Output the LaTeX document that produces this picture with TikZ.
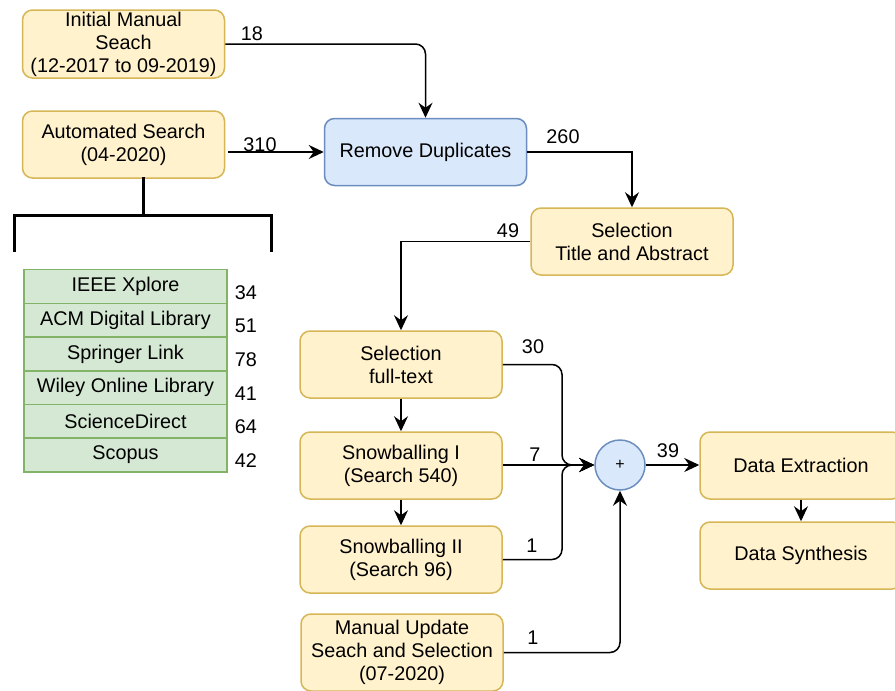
\documentclass[tikz,border=0pt]{standalone}
\usepackage{fontspec}
\setmainfont{Liberation Sans}
\usetikzlibrary{arrows.meta}
\definecolor{yfill}{HTML}{FFF2CC}
\definecolor{yline}{HTML}{D6B656}
\definecolor{bfill}{HTML}{DAE8FC}
\definecolor{bline}{HTML}{6C8EBF}
\definecolor{gfill}{HTML}{D5E8D4}
\definecolor{gline}{HTML}{82B366}
\newcommand\diagfont{\fontsize{9.9}{11.5}\selectfont}
\tikzset{
    box/.style={draw=yline, fill=yfill, line width=0.75pt, rounded corners=5pt,
        minimum width=101pt, minimum height=33.5pt, inner sep=0pt, align=center, font=\diagfont},
    dupbox/.style={box, draw=bline, fill=bfill},
    dbbox/.style={draw=gline, fill=gfill, line width=0.75pt, minimum width=101.5pt,
        minimum height=16.83pt, inner sep=0pt, font=\diagfont},
    plus/.style={circle, draw=bline, fill=bfill, line width=0.75pt, minimum size=25pt,
        inner sep=0pt, font=\fontsize{8}{10}\selectfont},
    num/.style={inner sep=0pt, font=\diagfont},
    link/.style={line width=0.75pt, -{Stealth[length=7.5pt, width=7pt, inset=2.5pt]}},
    bracket/.style={line width=1.5pt}
}
\begin{document}
\begin{tikzpicture}[x=0.5pt, y=-0.5pt]
    \useasboundingbox (0,0) rectangle (895,691);
    % Boxes
    \node[box, minimum height=34pt] (init) at (123.5,44) {Initial Manual\\Seach\\(12-2017 to 09-2019)};
    \node[box] (auto) at (123.5,144.5) {Automated Search\\(04-2020)};
    \node[dupbox] (dup) at (425.5,152) {Remove Duplicates};
    \node[box] (title) at (632,241.5) {Selection\\Title and Abstract};
    \node[box] (full) at (401,364.5) {Selection\\full-text};
    \node[box] (snowa) at (401,465.5) {Snowballing I\\(Search 540)};
    \node[box] (snowb) at (401,559.5) {Snowballing II\\(Search 96)};
    \node[box, minimum height=38.5pt] (manual) at (402,652.5) {Manual Update\\Seach and Selection\\(07-2020)};
    \node[plus] (sum) at (620,465) {+};
    \node[box] (extr) at (801,465.5) {Data Extraction};
    \node[box] (synt) at (801,555.5) {Data Synthesis};
    % Libraries
    \foreach \i/\lib/\hits in {1/IEEE Xplore/34, 2/ACM Digital Library/51, 3/Springer Link/78,
        4/Wiley Online Library/41, 5/ScienceDirect/64, 6/Scopus/42}{
        \node[dbbox] (db\i) at (125.5,{252.9+33.67*\i}) {\lib};
        \node[num] (hits\i) at (246,{258.7+33.67*\i}) {\hits};
    }
    % Bracket
    \coordinate (btop) at (143,177);
    \coordinate (bmid) at (143,215);
    \coordinate (bl) at (14,252);
    \coordinate (br) at (271,252);
    \draw[bracket] (btop) -- (bmid);
    \draw[bracket] (bl) |- (bmid) -| (br);
    % Drawing
    \coordinate (merge) at (562,465);
    \draw[link, rounded corners=5pt] (init.east) -| (dup.north);
    \draw[link] ([xshift=1.5pt]auto.east |- dup.west) -- (dup.west);
    \draw[link] (dup.east) -| (title.north);
    \draw[link] (title.west) -| (full.north);
    \draw[link] (full.south) -- (snowa.north);
    \draw[link] (snowa.south) -- (snowb.north);
    \draw[link, rounded corners=5pt] (full.east) -| (merge) -- (sum.west);
    \draw[link] (snowa.east |- sum.west) -- (sum.west);
    \draw[link, rounded corners=5pt] (snowb.east) -| (merge) -- (sum.west);
    \draw[link, rounded corners=5pt] (manual.east) -| (sum.south);
    \draw[link] (sum.east) -- (extr.west |- sum.east);
    \draw[link] (extr.south) -- (synt.north);
    % Labels
    \node[num] (l18) at (252,34) {18};
    \node[num] (l310) at (260,145) {310};
    \node[num] (l260) at (563,137) {260};
    \node[num] (l49) at (508,231) {49};
    \node[num] (l30) at (533,347) {30};
    \node[num] (l7) at (535,455) {7};
    \node[num] (l1a) at (532,546) {1};
    \node[num] (l1b) at (533,638) {1};
    \node[num] (l39) at (668,451) {39};
\end{tikzpicture}
\end{document}
